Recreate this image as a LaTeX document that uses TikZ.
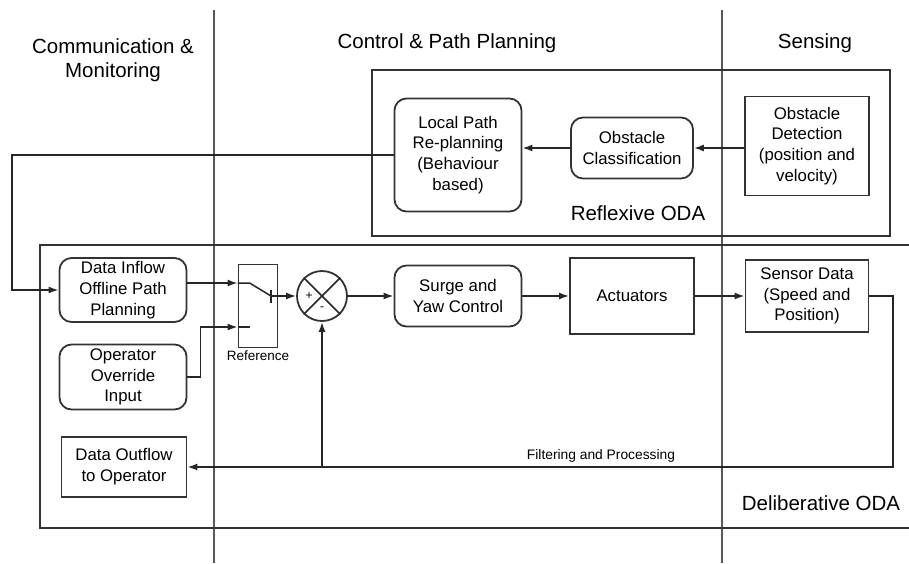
\documentclass[tikz,border=0pt]{standalone}
\usepackage{fontspec}
\setmainfont{Liberation Sans}
\usetikzlibrary{arrows.meta, positioning}

\begin{document}
\begin{tikzpicture}[
    x=1pt, y=-1pt,
    roundbox/.style={draw=black!80, line width=1.8pt, rounded corners=12pt, align=center, inner sep=1pt, font=\fontsize{16.8}{20.8}\selectfont},
    sqbox/.style={draw=black!80, line width=1.8pt, align=center, inner sep=1pt, font=\fontsize{16.8}{20.8}\selectfont},
    region/.style={draw=black!80, line width=1.9pt},
    flow/.style={draw=black!85, line width=1.6pt, -{Latex[length=10pt,width=7pt]}},
    wire/.style={draw=black!85, line width=1.5pt},
    divider/.style={draw=black!65, line width=1.2pt},
    header/.style={align=center, font=\fontsize{20.5}{24}\selectfont},
    tag/.style={font=\fontsize{20.5}{22}\selectfont}
]
\useasboundingbox (0,0) rectangle (909,563);

% Columns
\draw[divider] (214,10) -- (214,563);
\draw[divider] (722,10) -- (722,563);
\node[header] (commhead) at (113,60) {Communication \&\\Monitoring};
\node[header] (ctrlhead) at (447,43) {Control \& Path Planning};
\node[header] (senshead) at (815,43) {Sensing};

% Reflexive ODA
\node[region, minimum width=518, minimum height=166] (reflexive) at (631,153) {};
\node[roundbox, minimum width=127, minimum height=113] (localpath) at (458,155) {Local Path\\Re-planning\\(Behaviour\\based)};
\node[roundbox, minimum width=122, minimum height=61] (obsclass) at (632,148) {Obstacle\\Classification};
\node[sqbox, minimum width=124, minimum height=99] (obsdet) at (807,146) {Obstacle\\Detection\\(position and\\velocity)};
\node[tag] (reflabel) at (638,213) {Reflexive ODA};

% Deliberative ODA
\draw[region] (40,245) rectangle (920,528);
\node[roundbox, minimum width=127, minimum height=64] (inflow) at (123,290) {Data Inflow\\Offline Path\\Planning};
\node[roundbox, minimum width=127, minimum height=65] (override) at (123,377) {Operator\\Override\\Input};
\node[sqbox, minimum width=125, minimum height=60] (outflow) at (124,467) {Data Outflow\\to Operator};
\node[sqbox, minimum width=39, minimum height=83] (ref) at (258,306) {};
\node[font=\fontsize{13.5}{15}\selectfont, below=-1pt of ref] (reflbl) {Reference};
\node[draw=black!80, line width=1.8pt, circle, minimum size=50] (sum) at (322,296) {};
\node[roundbox, minimum width=127, minimum height=61] (surge) at (458,296) {Surge and\\Yaw Control};
\node[sqbox, minimum width=124, minimum height=76] (act) at (632,296) {Actuators};
\node[sqbox, minimum width=123, minimum height=72] (sensor) at (807,296) {Sensor Data\\(Speed and\\Position)};
\node[tag] (dellabel) at (821,503) {Deliberative ODA};

% Summing junction
\draw[wire] (sum.north west) -- (sum.south east);
\draw[wire] (sum.north east) -- (sum.south west);
\node[font=\fontsize{12}{12}\selectfont] (plus) at ([xshift=-13pt]sum.center) {+};
\node[font=\fontsize{12}{12}\selectfont] (minus) at ([yshift=-13pt]sum.center) {-};

% Switch
\coordinate (refin1) at (ref.west |- 0,283);
\coordinate (refin2) at (ref.west |- 0,327);
\coordinate (swout) at (271,296);
\coordinate (loopx) at (12,0);
\coordinate (retx) at (893,0);
\draw[wire] (refin1) -- ++(12,0) -- (swout);
\draw[wire] (refin2) -- ++(12,0);
\draw[wire] ([yshift=-7pt]swout) -- ([yshift=6pt]swout);

% Connectors
\draw[flow] (obsdet.west |- obsclass.east) -- (obsclass.east);
\draw[flow] (obsclass.west) -- (obsclass.west -| localpath.east);
\draw[flow] (localpath.west) -| (loopx |- inflow.west) -- (inflow.west);
\draw[flow] (inflow.east |- refin1) -- (refin1);
\draw[flow] (override.east) -| ++(13,-50) |- (refin2);
\draw[flow] (swout) -- (sum.west);
\draw[flow] (sum.east) -- (surge.west);
\draw[flow] (surge.east) -- (act.west);
\draw[flow] (act.east) -- (sensor.west);
\draw[flow] (sensor.east) -| (retx |- outflow.east) -- (outflow.east);
\draw[flow] (sum.south |- outflow.east) -- (sum.south);
\node[font=\fontsize{13.8}{15}\selectfont, above=1pt] (filtlbl) at (601,467) {Filtering and Processing};
\end{tikzpicture}
\end{document}
